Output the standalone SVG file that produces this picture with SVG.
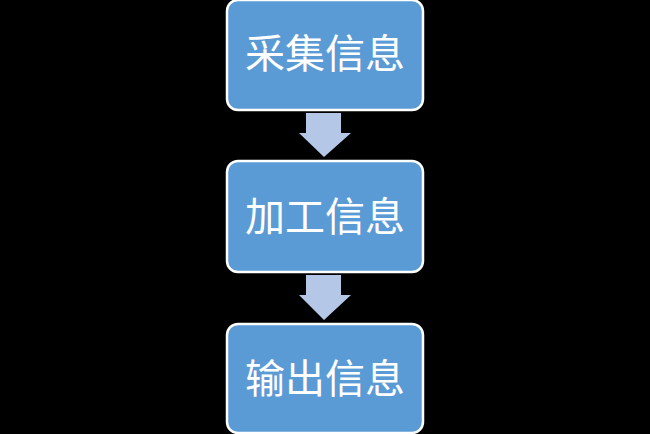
<svg xmlns="http://www.w3.org/2000/svg" width="650" height="434" viewBox="0 0 650 434">
<style>
.box{fill:#5B9BD5;stroke:#FFFFFF;stroke-width:2.5}
.lbl{font-family:"Liberation Sans","Noto Sans CJK SC",sans-serif;font-size:40px;fill:#FFFFFF;text-anchor:middle}
.arr{fill:#B4C7E7}
</style>
<rect x="0" y="0" width="650" height="434" fill="#000000"/>
<g id="connectors">
<polygon class="arr" points="306,113 341,113 341,133 351,133 324,157 299,133 306,133"/>
<polygon class="arr" points="306,275 341,275 341,295 351,295 324,320 299,295 306,295"/>
</g>
<g id="node1">
<rect class="box" x="227" y="0" width="196" height="110" rx="11"/>
<text class="lbl" x="325" y="68">采集信息</text>
</g>
<g id="node2">
<rect class="box" x="227" y="161" width="196" height="111" rx="11"/>
<text class="lbl" x="325" y="231">加工信息</text>
</g>
<g id="node3">
<rect class="box" x="227" y="324" width="196" height="109" rx="11"/>
<text class="lbl" x="325" y="393">输出信息</text>
</g>
</svg>
